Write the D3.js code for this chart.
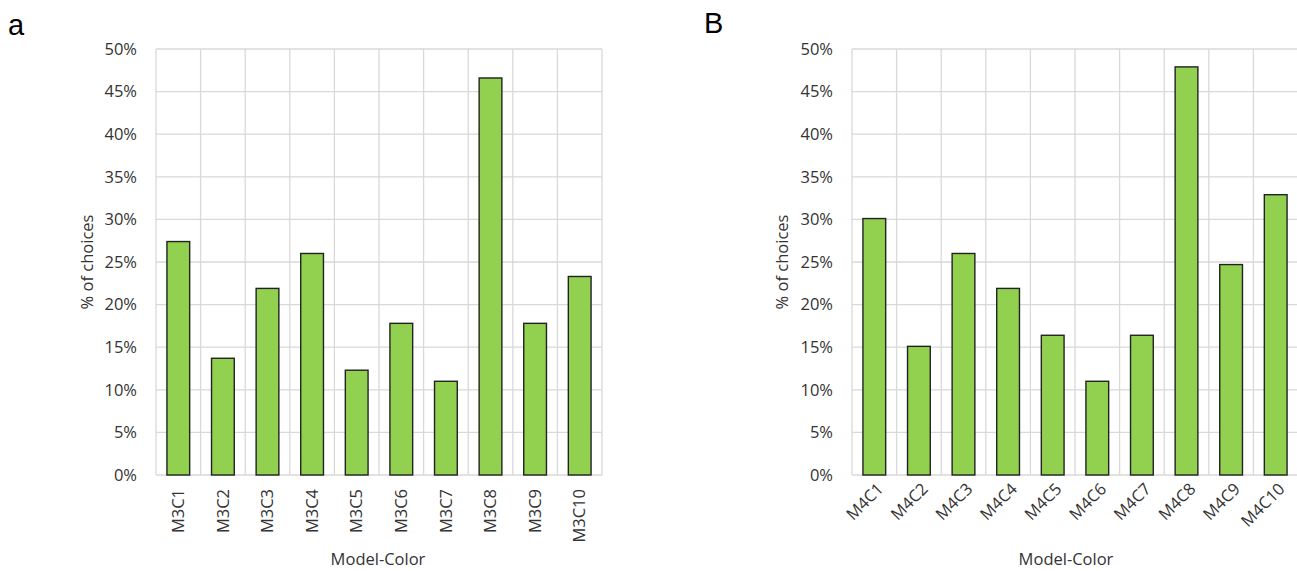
<!DOCTYPE html>
<html>
<head>
<meta charset="utf-8">
<script src="https://cdn.jsdelivr.net/npm/d3@7"></script>
<style>
  html, body { margin: 0; padding: 0; background: #fff; }
  svg { display: block; }
  text { font-family: "Open Sans", "Noto Sans", sans-serif; fill: #333; }
</style>
</head>
<body>
<svg id="chart" width="1297" height="571"></svg>
<script>
// ---- Data ----
const categoriesA = ["M3C1","M3C2","M3C3","M3C4","M3C5","M3C6","M3C7","M3C8","M3C9","M3C10"];
const valuesA = [27.4, 13.7, 21.9, 26.0, 12.3, 17.8, 11.0, 46.6, 17.8, 23.3];
const categoriesB = ["M4C1","M4C2","M4C3","M4C4","M4C5","M4C6","M4C7","M4C8","M4C9","M4C10"];
const valuesB = [30.1, 15.1, 26.0, 21.9, 16.4, 11.0, 16.4, 47.9, 24.7, 32.9];
const yTicks = [0, 5, 10, 15, 20, 25, 30, 35, 40, 45, 50];
const panelLabels = ["a", "B"];
const yTitle = "% of choices";
const xTitle = "Model-Color";

const svg = d3.select("#chart");

function drawPanel(cfg) {
  const g = svg.append("g");
  const x = d3.scaleBand().domain(cfg.categories).range([cfg.left, cfg.left + 446]).padding(0);
  const y = d3.scaleLinear().domain([0, 50]).range([475, 49]);
  const bw = x.bandwidth();

  // horizontal gridlines
  g.append("g").selectAll("line").data(yTicks).join("line")
    .attr("x1", cfg.left).attr("x2", cfg.left + 446)
    .attr("y1", d => y(d)).attr("y2", d => y(d))
    .attr("stroke", "#d9d9d9").attr("stroke-width", 1.3);

  // vertical gridlines at band boundaries
  const bounds = cfg.categories.map(c => x(c)).concat([x(cfg.categories[cfg.categories.length-1]) + bw]);
  g.append("g").selectAll("line").data(bounds).join("line")
    .attr("x1", d => d).attr("x2", d => d)
    .attr("y1", y(50)).attr("y2", y(0))
    .attr("stroke", "#d9d9d9").attr("stroke-width", 1.3);

  // y axis labels via d3 axis
  const yAxis = d3.axisLeft(y).tickValues(yTicks).tickFormat(d => d + "%").tickSize(0).tickPadding(19);
  const ya = g.append("g").attr("transform", `translate(${cfg.left},0)`).call(yAxis);
  ya.select(".domain").remove();
  ya.selectAll("text").attr("font-size", "16.5px").attr("fill", "#333")
    .attr("font-family", '"Open Sans", sans-serif');

  // bars
  g.append("g").selectAll("rect").data(cfg.values).join("rect")
    .attr("x", (d, i) => x(cfg.categories[i]) + bw * 0.245)
    .attr("width", bw * 0.51)
    .attr("y", d => y(d))
    .attr("height", d => y(0) - y(d))
    .attr("fill", "#92d050")
    .attr("stroke", "#222")
    .attr("stroke-width", 1.4);

  // x labels
  g.append("g").selectAll("text").data(cfg.categories).join("text")
    .attr("transform", d => cfg.rot === -90
      ? `translate(${x(d) + bw / 2},489) rotate(-90)`
      : `translate(${x(d) + bw / 2 + 6},486) rotate(-45)`)
    .attr("text-anchor", "end")
    .attr("dy", "0.35em")
    .attr("font-size", "16.5px")
    .text(d => d);

  // y title
  g.append("text")
    .attr("transform", `translate(${cfg.yTitleX},262) rotate(-90)`)
    .attr("text-anchor", "middle")
    .attr("dy", "0.35em")
    .attr("font-size", "16.5px")
    .text(yTitle);

  // x title
  g.append("text")
    .attr("x", cfg.xTitleX).attr("y", 565)
    .attr("text-anchor", "middle")
    .attr("font-size", "16.5px")
    .text(xTitle);

  // panel label
  g.append("text")
    .attr("x", cfg.panelX).attr("y", cfg.panelY)
    .attr("font-size", "29px")
    .style("fill", "#000")
    .style("font-family", '"Liberation Sans", Arial, sans-serif')
    .text(cfg.panel);
}

drawPanel({ categories: categoriesA, values: valuesA, left: 156, rot: -90,
  yTitleX: 87, xTitleX: 378, panel: panelLabels[0], panelX: 8, panelY: 35 });
drawPanel({ categories: categoriesB, values: valuesB, left: 852, rot: -45,
  yTitleX: 782, xTitleX: 1066, panel: panelLabels[1], panelX: 704, panelY: 33 });
</script>
</body>
</html>
